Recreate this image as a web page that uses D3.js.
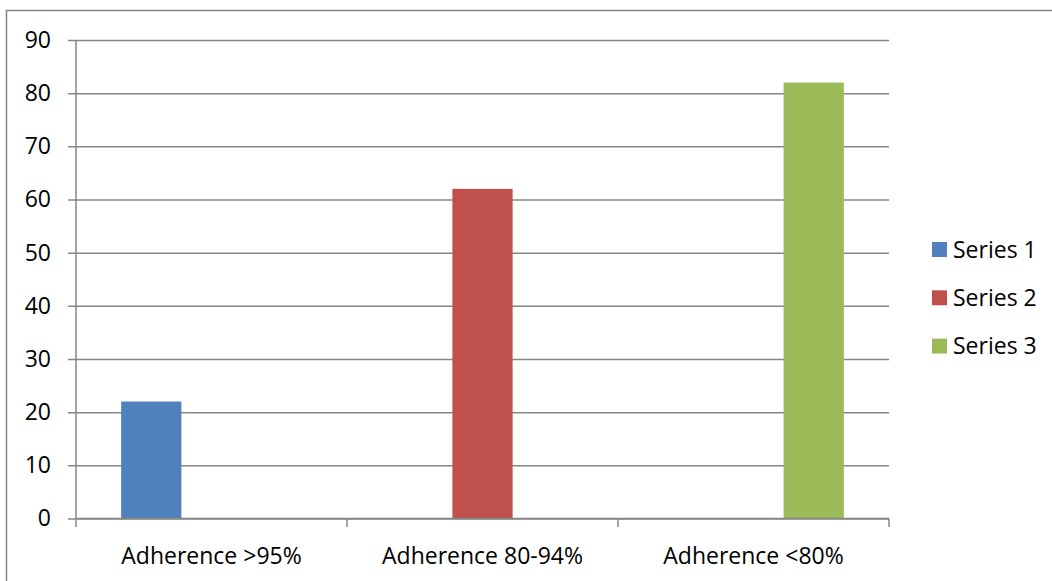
<!DOCTYPE html>
<html>
<head>
<meta charset="utf-8">
<script src="https://cdn.jsdelivr.net/npm/d3@7"></script>
<style>
  html, body { margin: 0; padding: 0; background: #fff; }
  svg { display: block; }
  text { font-family: "Open Sans", "Liberation Sans", sans-serif; fill: #000; }
</style>
</head>
<body>
<svg id="chart" width="1052" height="581"></svg>
<script>
// Chart data
const categories = ["Adherence >95%", "Adherence 80-94%", "Adherence <80%"];
const seriesNames = ["Series 1", "Series 2", "Series 3"];
const series1 = [22, 0, 0];
const series2 = [0, 62, 0];
const series3 = [0, 0, 82];
const yTicks = [0, 10, 20, 30, 40, 50, 60, 70, 80, 90];
const colors = ["#4F81BD", "#C0504D", "#9BBB59"];

const seriesValues = [series1, series2, series3];

const svg = d3.select("#chart");
const W = 1052, H = 581;
const plot = { left: 76, right: 889, top: 40, bottom: 518.5 };
const gridColor = "#868686";
const fontSize = 23;
const fontFamily = "'Open Sans', 'Liberation Sans', sans-serif";

// Outer chart frame
svg.append("rect")
  .attr("x", 6.5).attr("y", 10.5)
  .attr("width", W).attr("height", H)
  .attr("fill", "none").attr("stroke", gridColor).attr("stroke-width", 1.5);

const x = d3.scaleBand().domain(categories).range([plot.left, plot.right]).padding(0);
const xs = d3.scaleBand().domain(seriesNames).range([0, x.bandwidth()])
  .paddingInner(0).paddingOuter(0.75);
const y = d3.scaleLinear().domain([0, 90]).range([plot.bottom, plot.top]);

// Horizontal gridlines with left tick marks
const yAxis = d3.axisLeft(y).tickValues(yTicks)
  .tickSize(-(plot.right - plot.left + 8)).tickPadding(17).tickFormat(d3.format("d"));
const gy = svg.append("g").attr("transform", `translate(${plot.left - 8},0)`).call(yAxis);
gy.select(".domain").remove();
gy.selectAll(".tick line")
  .attr("x1", 0).attr("x2", plot.right - plot.left + 8)
  .attr("stroke", gridColor).attr("stroke-width", 1.5);
gy.selectAll(".tick text").attr("font-size", fontSize).attr("fill", "#000")
  .attr("font-family", fontFamily);

// Bars
const groups = svg.append("g").selectAll("g")
  .data(seriesNames)
  .join("g")
  .attr("fill", (d, i) => colors[i]);

groups.selectAll("rect")
  .data((s, si) => categories.map((c, ci) => ({ c, s, v: seriesValues[si][ci] })))
  .join("rect")
  .filter(d => d.v > 0)
  .attr("x", d => x(d.c) + xs(d.s))
  .attr("width", xs.bandwidth())
  .attr("y", d => y(d.v))
  .attr("height", d => y(0) - y(d.v));

// Vertical axis line
svg.append("line")
  .attr("x1", plot.left).attr("x2", plot.left)
  .attr("y1", plot.top).attr("y2", plot.bottom)
  .attr("stroke", gridColor).attr("stroke-width", 1.5);

// Category axis
const xAxis = d3.axisBottom(x).tickSize(0).tickPadding(29);
const gx = svg.append("g").attr("transform", `translate(0,${plot.bottom})`).call(xAxis);
gx.select(".domain").attr("stroke", gridColor).attr("stroke-width", 1.5)
  .attr("d", `M${plot.left},0H${plot.right}`);
gx.selectAll(".tick text").attr("font-size", fontSize).attr("fill", "#000")
  .attr("font-family", fontFamily);

// Category boundary tick marks
const bounds = categories.map(c => x(c)).concat([plot.right]);
gx.selectAll(".bound")
  .data(bounds)
  .join("line")
  .attr("class", "bound")
  .attr("x1", d => d).attr("x2", d => d)
  .attr("y1", 0).attr("y2", 8.5)
  .attr("stroke", gridColor).attr("stroke-width", 1.5);

// Legend
const legend = svg.append("g").attr("transform", "translate(932,242)");
const li = legend.selectAll("g").data(seriesNames).join("g")
  .attr("transform", (d, i) => `translate(0,${i * 48.3})`);
li.append("rect").attr("width", 15).attr("height", 15)
  .attr("fill", (d, i) => colors[i]);
li.append("text").attr("x", 21).attr("y", 15.5)
  .attr("font-size", fontSize).text(d => d);
</script>
</body>
</html>
